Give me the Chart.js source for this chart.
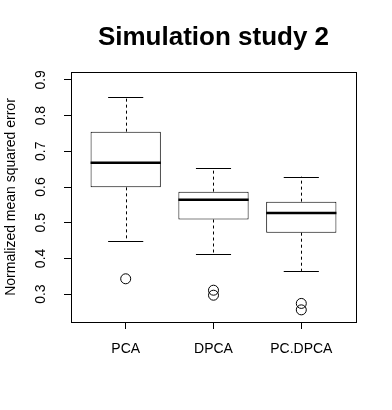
<!DOCTYPE html>
<html>
<head>
<meta charset="utf-8">
<script src="https://cdn.jsdelivr.net/npm/chart.js@4/dist/chart.umd.min.js"></script>
<style>
  body { margin: 0; background: #fff; }
</style>
</head>
<body>
<canvas id="myChart" width="392" height="410"></canvas>
<script>
// data
const categories = ['PCA', 'DPCA', 'PC.DPCA'];
const lowerWhisker = [0.450, 0.413, 0.365];
const q1 = [0.599, 0.509, 0.472];
const median = [0.668, 0.564, 0.527];
const q3 = [0.755, 0.587, 0.559];
const upperWhisker = [0.851, 0.652, 0.629];
const outliers = [[0.343], [0.311, 0.297], [0.274, 0.256]];
const yTicks = [0.3, 0.4, 0.5, 0.6, 0.7, 0.8, 0.9];
const titleText = 'Simulation study 2';
const yTitle = 'Normalized mean squared error';

const FONT = '"Liberation Sans", Arial, Helvetica, sans-serif';

const boxData = categories.map((c, i) => ({ x: i + 1, y: [q1[i], q3[i]] }));
const outlierData = [];
outliers.forEach((list, i) => list.forEach(v => outlierData.push({ x: i + 1, y: v })));

// whiskers, medians, frame, title and rotated y labels (R style)
const boxPlotPlugin = {
    id: 'boxPlotPlugin',
    afterDatasetsDraw(chart) {
        const ctx = chart.ctx;
        const xs = chart.scales.x;
        const ys = chart.scales.y;
        ctx.save();
        ctx.strokeStyle = '#000';
        for (let i = 0; i < categories.length; i++) {
            const cx = Math.round(xs.getPixelForValue(i + 1)) + 0.5;
            // dashed whiskers
            ctx.lineWidth = 1;
            ctx.setLineDash([3, 3]);
            ctx.beginPath();
            ctx.moveTo(cx, ys.getPixelForValue(q3[i]));
            ctx.lineTo(cx, ys.getPixelForValue(upperWhisker[i]));
            ctx.moveTo(cx, ys.getPixelForValue(q1[i]));
            ctx.lineTo(cx, ys.getPixelForValue(lowerWhisker[i]));
            ctx.stroke();
            ctx.setLineDash([]);
            // staples
            const sl = xs.getPixelForValue(i + 1 - 0.2);
            const sr = xs.getPixelForValue(i + 1 + 0.2);
            ctx.beginPath();
            [upperWhisker[i], lowerWhisker[i]].forEach(v => {
                const py = Math.round(ys.getPixelForValue(v)) + 0.5;
                ctx.moveTo(sl, py);
                ctx.lineTo(sr, py);
            });
            ctx.stroke();
            // median
            ctx.lineWidth = 2.5;
            ctx.beginPath();
            const my = ys.getPixelForValue(median[i]);
            ctx.moveTo(xs.getPixelForValue(i + 1 - 0.4), my);
            ctx.lineTo(xs.getPixelForValue(i + 1 + 0.4), my);
            ctx.stroke();
        }
        // frame around plot region
        const a = chart.chartArea;
        ctx.lineWidth = 1;
        ctx.strokeRect(Math.round(a.left) + 0.5, Math.round(a.top) + 0.5,
            Math.round(a.right - a.left), Math.round(a.bottom - a.top));
        // y tick labels, rotated like R
        ctx.fillStyle = '#000';
        ctx.font = '14px ' + FONT;
        ctx.textAlign = 'center';
        ctx.textBaseline = 'middle';
        yTicks.forEach(v => {
            ctx.save();
            ctx.translate(a.left - 30, ys.getPixelForValue(v));
            ctx.rotate(-Math.PI / 2);
            ctx.fillText(v.toFixed(1), 0, 0);
            ctx.restore();
        });
        // main title
        ctx.font = 'bold 26px ' + FONT;
        ctx.textBaseline = 'alphabetic';
        ctx.fillText(titleText, (a.left + a.right) / 2, 45);
        ctx.restore();
    }
};

const ctx = document.getElementById('myChart').getContext('2d');
new Chart(ctx, {
    data: {
        datasets: [{
            type: 'bar',
            data: boxData,
            backgroundColor: '#fff',
            borderColor: '#000',
            borderWidth: 1,
            borderSkipped: false,
            barPercentage: 1,
            categoryPercentage: 0.8
        }, {
            type: 'scatter',
            data: outlierData,
            pointStyle: 'circle',
            pointRadius: 5,
            backgroundColor: 'rgba(0,0,0,0)',
            borderColor: '#000',
            borderWidth: 1
        }]
    },
    plugins: [boxPlotPlugin],
    options: {
        responsive: false,
        animation: false,
        layout: { padding: { top: 72, right: 36, left: 0, bottom: 0 } },
        plugins: {
            legend: { display: false },
            tooltip: { enabled: false }
        },
        scales: {
            x: {
                type: 'linear',
                offset: false,
                min: 0.377,
                max: 3.623,
                afterBuildTicks: s => { s.ticks = categories.map((c, i) => ({ value: i + 1 })); },
                afterFit: s => { s.height = 88; },
                border: { display: false },
                grid: { offset: false, drawOnChartArea: false, tickLength: 7, color: '#000' },
                ticks: {
                    callback: v => categories[v - 1],
                    color: '#000',
                    font: { family: FONT, size: 14 },
                    padding: 12,
                    maxRotation: 0
                }
            },
            y: {
                min: 0.222,
                max: 0.922,
                afterBuildTicks: s => { s.ticks = yTicks.map(v => ({ value: v })); },
                afterFit: s => { s.width = 71; },
                border: { display: false },
                grid: { drawOnChartArea: false, tickLength: 7, color: '#000' },
                ticks: { display: false },
                title: {
                    display: true,
                    text: yTitle,
                    color: '#000',
                    font: { family: FONT, size: 14 },
                    padding: { top: 3, bottom: 0 }
                }
            }
        }
    }
});
</script>
</body>
</html>
